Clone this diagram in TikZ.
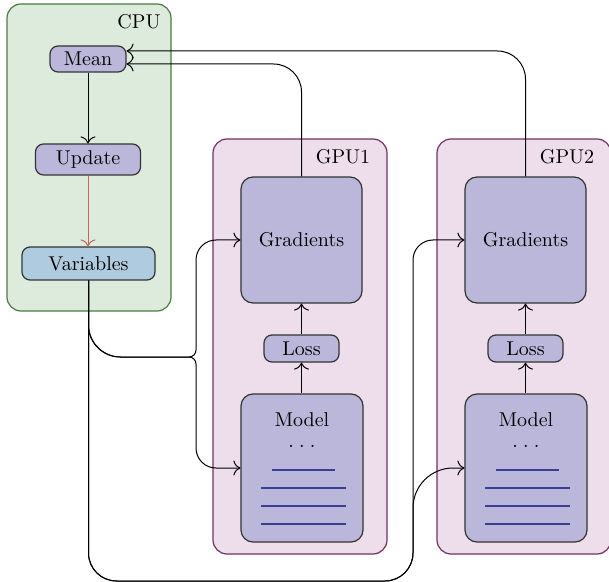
\documentclass[tikz,border=0pt]{standalone}
\usetikzlibrary{arrows.meta}
\definecolor{cpufill}{HTML}{DDEBDC}
\definecolor{cpudraw}{HTML}{4C7A42}
\definecolor{gpufill}{HTML}{EEDDEB}
\definecolor{gpudraw}{HTML}{6E3460}
\definecolor{opfill}{HTML}{BBB7DA}
\definecolor{varfill}{HTML}{AFCBDF}
\definecolor{updline}{HTML}{CC5E5E}
\definecolor{layer}{HTML}{3B3B98}
\begin{document}
\begin{tikzpicture}[x=0.5pt,y=-0.5pt,
    >={To[length=3.5pt,width=7.5pt]},
    op/.style={draw=black!80,fill=opfill,rounded corners=4pt,line width=0.6pt,inner sep=0pt},
    device/.style={line width=0.6pt,rounded corners=7pt},
    link/.style={->,line width=0.5pt},
    layerline/.style={layer,line width=1.2pt}]
            \useasboundingbox (0,0) rectangle (609,582);
            % devices
            \draw[device,draw=cpudraw,fill=cpufill] (7,4) rectangle (171,311);
            \node (cpu) at (139,22) {CPU};
            \foreach \g/\x in {1/0,2/224} {
                \draw[device,draw=gpudraw,fill=gpufill] (213+\x,139) rectangle (387+\x,554);
                \node (gpu\g) at (343+\x,157) {GPU\g};
            }
            % cpu side
            \node[op,minimum width=38pt,minimum height=13pt] (mean) at (88,59) {Mean};
            \node[op,minimum width=52.5pt,minimum height=15.5pt] (update) at (88,159.5) {Update};
            \node[op,fill=varfill,minimum width=66.5pt,minimum height=16.5pt] (var) at (88.5,263.5) {Variables};
            \draw[link] (mean.south) -- (mean.south |- update.north);
            \draw[link,draw=updline] (update.south) -- (update.south |- var.north);
            % gpu side
            \foreach \g/\x in {1/0,2/224} {
                \node[op,rounded corners=6pt,minimum width=60.5pt,minimum height=63pt] (grad\g) at (301.5+\x,240) {Gradients};
                \node[op,minimum width=37.5pt,minimum height=13.5pt] (loss\g) at (301.5+\x,348.5) {Loss};
                \node[op,rounded corners=6pt,minimum width=61pt,minimum height=74pt] (model\g) at (302+\x,468) {};
                \node (mname\g) at (302+\x,420) {Model};
                \node (mdots\g) at (302+\x,446) {.\hspace{2.6pt}.\hspace{2.6pt}.};
                \draw[layerline] (272+\x,470) -- (335+\x,470);
                \foreach \y in {488,506,524}
                    \draw[layerline] (261+\x,\y) -- (346+\x,\y);
                \draw[link] (loss\g.south |- model\g.north) -- (loss\g.south);
                \draw[link] (loss\g.north) -- (grad\g.south);
            }
            % gradients back to mean
            \draw[link,rounded corners=14pt] (grad1.north) |- ([yshift=-2.5pt]mean.east);
            \draw[link,rounded corners=14pt] (grad2.north) |- ([yshift=4pt]mean.east);
            % variables out to the gpus
            \coordinate (bend1) at (var.south |- 0,357);
            \coordinate (fork1) at (196,357);
            \coordinate (bend2) at (var.south |- 0,581);
            \coordinate (fork2) at (413,581);
            \draw[link] (var.south) [rounded corners=16pt] -- (bend1) [rounded corners=3.5pt] -- (fork1) [rounded corners=10pt] |- (grad1.west);
            \draw[link] (var.south) [rounded corners=16pt] -- (bend1) [rounded corners=3.5pt] -- (fork1) [rounded corners=10pt] |- (model1.west);
            \draw[link] (var.south) [rounded corners=14pt] -- (bend2) -- (fork2) [rounded corners=10pt] |- (grad2.west);
            \draw[link] (var.south) [rounded corners=14pt] -- (bend2) -- (fork2) [rounded corners=20pt] |- (model2.west);
        \end{tikzpicture}
\end{document}
